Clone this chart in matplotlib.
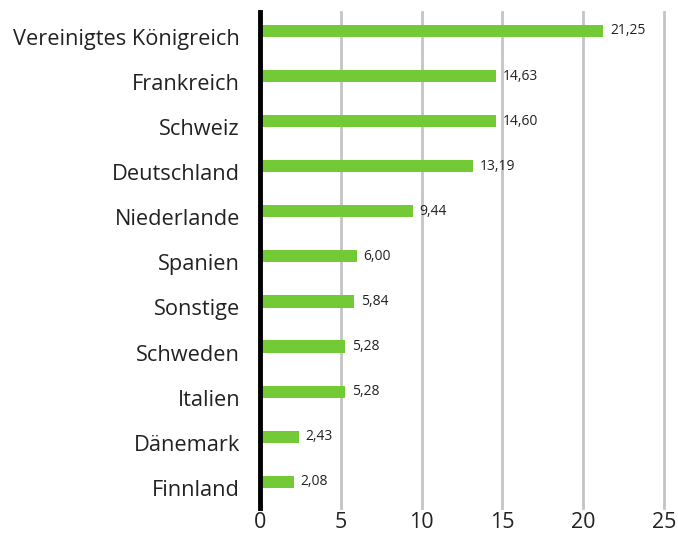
import matplotlib
matplotlib.use("Agg")
import matplotlib.pyplot as plt
from matplotlib.transforms import offset_copy

categories = ["Vereinigtes Königreich", "Frankreich", "Schweiz", "Deutschland",
              "Niederlande", "Spanien", "Sonstige", "Schweden", "Italien",
              "Dänemark", "Finnland"]
values = [21.25, 14.63, 14.60, 13.19, 9.44, 6.00, 5.84, 5.28, 5.28, 2.43, 2.08]
xticks = [0, 5, 10, 15, 20, 25]

plt.rcParams['font.family'] = ['Open Sans', 'DejaVu Sans']

fig = plt.figure(figsize=(6.78, 5.34), dpi=100)
ax = fig.add_axes([0.3835, 0.0487, 0.9795 - 0.3835, 0.9775 - 0.0487])

ypos = list(range(len(categories)))
ax.barh(ypos, values, height=0.27, color="#74c936", zorder=3)
for y, v in zip(ypos, values):
    ax.text(v + 0.4, y, f"{v:.2f}".replace(".", ","), va="center", ha="left",
            fontsize=10, color="#222222")

ax.set_xlim(0, 25)
ax.set_ylim(10.58, -0.42)
ax.set_yticks(ypos)
ax.set_yticklabels([])
lab_tr = offset_copy(ax.get_yaxis_transform(), fig=fig, x=-20, y=-8.5, units='dots')
for y, c in zip(ypos, categories):
    ax.text(0, y, c, transform=lab_tr, ha="right", va="center",
            fontsize=15.7, color="#222222", clip_on=False)
ax.set_xticks(xticks)
ax.set_xticklabels([str(t) for t in xticks], fontsize=15.5, color="#222222")
ax.tick_params(axis="both", length=0)
ax.tick_params(axis="x", pad=3)
for s in ["top", "right", "bottom"]:
    ax.spines[s].set_visible(False)
ax.spines["left"].set_linewidth(3.5)
ax.spines["left"].set_color("black")
ax.spines["left"].set_zorder(5)
ax.grid(axis="x", color="#c4c4c4", linewidth=2, zorder=0)
for gl in ax.get_xgridlines():
    gl.set_clip_on(False)
ax.grid(axis="y", visible=False)

fig.savefig("out.png", dpi=100)
